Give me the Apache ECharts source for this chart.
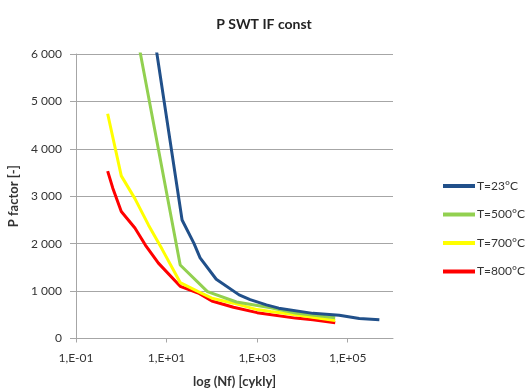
<!DOCTYPE html>
<html>
<head>
<meta charset="utf-8">
<script src="https://cdn.jsdelivr.net/npm/echarts@6/dist/echarts.min.js"></script>
<style>
html,body{margin:0;padding:0;background:#fff;}
#chart{width:526px;height:389px;}
</style>
</head>
<body>
<div id="chart"></div>
<script>
// ---- data ----
const seriesNames = ['T=23°C', 'T=500°C', 'T=700°C', 'T=800°C'];

const n23 = [3, 22, 40, 55, 125, 400, 700, 1600, 3000, 17000, 65000, 180000, 500000];
const p23 = [7960, 2500, 2010, 1700, 1250, 920, 820, 710, 640, 530, 490, 420, 395];

const n500 = [1, 20, 80, 350, 2000, 7000, 53000];
const p500 = [8150, 1550, 990, 770, 650, 535, 440];

const n700 = [0.5, 1, 2, 4, 8, 20, 50, 100, 300, 1000, 2000, 7000, 53000];
const p700 = [4740, 3430, 2950, 2390, 1880, 1180, 990, 850, 745, 610, 570, 500, 380];

const n800 = [0.5, 0.65, 1, 2, 3.4, 6.6, 20, 50, 100, 300, 1000, 7000, 17000, 53000];
const p800 = [3530, 3170, 2680, 2330, 1970, 1590, 1100, 960, 790, 660, 545, 430, 395, 330];

const xTickValues = [0.1, 10, 1000, 100000];
const yMin = 0, yMax = 6000, yStep = 1000;

const colors = ['#21508A', '#92D050', '#FFFF00', '#FF0000'];

// ---- chart ----
function pairs(xs, ys) { return xs.map((x, i) => [x, ys[i]]); }
const allData = [pairs(n23, p23), pairs(n500, p500), pairs(n700, p700), pairs(n800, p800)];

function fmtExp(v) {
  const e = Math.round(Math.log10(v));
  const s = e < 0 ? '-' : '+';
  const a = Math.abs(e);
  return '1,E' + s + (a < 10 ? '0' : '') + a;
}
function fmtThousands(v) {
  return String(v).replace(/\B(?=(\d{3})+(?!\d))/g, ' ');
}

const FONT = 'Lato, "Open Sans", sans-serif';
const chart = echarts.init(document.getElementById('chart'), null, {renderer: 'canvas'});
chart.setOption({
  animation: false,
  backgroundColor: '#ffffff',
  color: colors,
  textStyle: {fontFamily: FONT},
  title: {
    text: 'P SWT IF const',
    left: 259, textAlign: 'center', top: 12,
    textStyle: {fontFamily: FONT, fontSize: 14, fontWeight: 'bold', color: '#222'}
  },
  legend: {
    orient: 'vertical',
    left: 438, top: 174,
    itemWidth: 32, itemHeight: 4, itemGap: 14.5,
    icon: 'rect',
    data: seriesNames,
    textStyle: {fontFamily: FONT, fontSize: 12, color: '#333', lineHeight: 14, padding: [0, 0, 0, -3]}
  },
  grid: {left: 76, right: 133, top: 54, bottom: 50.5, outerBoundsMode: 'none', containLabel: false},
  xAxis: {
    type: 'log', logBase: 10, min: 0.1, max: 1000000,
    name: 'log (Nf) [cykly]', nameLocation: 'middle', nameGap: 37,
    nameTextStyle: {fontFamily: FONT, fontSize: 13, fontWeight: 'bold', color: '#333'},
    axisLine: {show: true, lineStyle: {color: '#A6A6A6', width: 1}},
    axisTick: {show: true, length: 4, customValues: xTickValues, lineStyle: {color: '#A6A6A6'}},
    axisLabel: {customValues: xTickValues, formatter: fmtExp, margin: 14,
      fontFamily: FONT, fontSize: 12, color: '#333'},
    splitLine: {show: false},
    minorTick: {show: false}, minorSplitLine: {show: false}
  },
  yAxis: {
    type: 'value', min: yMin, max: yMax, interval: yStep,
    name: 'P factor [-]', nameLocation: 'middle', nameGap: 56, nameRotate: 90,
    nameTextStyle: {fontFamily: FONT, fontSize: 13, fontWeight: 'bold', color: '#333'},
    axisLine: {show: true, lineStyle: {color: '#A6A6A6', width: 1}},
    axisTick: {show: true, length: 6, lineStyle: {color: '#A6A6A6'}},
    axisLabel: {formatter: fmtThousands, margin: 14, fontFamily: FONT, fontSize: 12, color: '#333'},
    splitLine: {show: true, lineStyle: {color: '#A6A6A6', width: 1}}
  },
  series: seriesNames.map((name, i) => ({
    name: name, type: 'line', data: allData[i],
    showSymbol: false, symbol: 'none', clip: true,
    lineStyle: {width: 3, color: colors[i]},
    itemStyle: {color: colors[i]},
    z: 10 - i
  }))
});
</script>
</body>
</html>
